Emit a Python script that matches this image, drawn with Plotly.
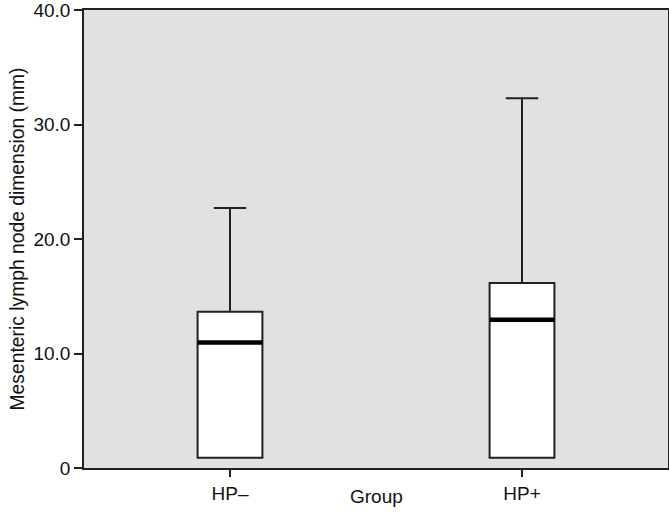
import plotly.graph_objects as go

groups = ["HP\u2013", "HP+"]
lower_fence = [0.9, 0.9]
q1 = [0.9, 0.9]
median = [10.95, 12.95]
q3 = [13.65, 16.15]
upper_fence = [22.7, 32.3]

y_tick_vals = [0, 10, 20, 30, 40]
y_tick_text = ["0", "10.0", "20.0", "30.0", "40.0"]

FONT = "Liberation Sans, Arial, Helvetica, sans-serif"
LINE = "#222222"
BOXW = 0.222

fig = go.Figure()
fig.add_trace(go.Box(
    x=groups, q1=q1, median=median, q3=q3,
    lowerfence=lower_fence, upperfence=upper_fence,
    fillcolor="white", line=dict(color=LINE, width=2),
    width=BOXW, whiskerwidth=0.5, boxpoints=False,
    hoverinfo="skip", showlegend=False,
))
# thick median line overlay
fig.add_trace(go.Box(
    x=groups, q1=median, median=median, q3=median,
    lowerfence=median, upperfence=median,
    fillcolor="rgba(0,0,0,0)", line=dict(color="black", width=4.5),
    width=BOXW, whiskerwidth=0, boxpoints=False,
    hoverinfo="skip", showlegend=False,
))

fig.update_layout(
    width=669, height=522,
    margin=dict(l=84, r=1, t=10, b=54, autoexpand=False),
    paper_bgcolor="white", plot_bgcolor="#e1e1e1",
    boxmode="overlay",
    font=dict(family=FONT, size=19, color="#111111"),
    showlegend=False,
)
fig.update_xaxes(
    type="category", range=[-0.5, 1.5],
    showline=True, linecolor=LINE, linewidth=1.5, mirror=True,
    ticks="outside", ticklen=7, tickwidth=1.5, tickcolor=LINE,
    showgrid=False, zeroline=False,
    tickfont=dict(family=FONT, size=19),
)
fig.update_yaxes(
    range=[0, 40], tickvals=y_tick_vals, ticktext=y_tick_text,
    showline=True, linecolor=LINE, linewidth=1.5, mirror=True,
    ticks="outside", ticklen=8, tickwidth=1.5, tickcolor=LINE,
    showgrid=False, zeroline=False, ticklabeloverflow="allow",
    tickfont=dict(family=FONT, size=19),
    title=dict(text="Mesenteric lymph node dimension (mm)",
               font=dict(family=FONT, size=19.3), standoff=4),
)
fig.add_annotation(
    text="Group", xref="paper", yref="paper", x=0.5, y=-0.063,
    xanchor="center", yanchor="middle", showarrow=False,
    font=dict(family=FONT, size=19),
)

fig.write_html("out.html", config={"displayModeBar": False},
               post_script="document.body.style.margin='0';")
